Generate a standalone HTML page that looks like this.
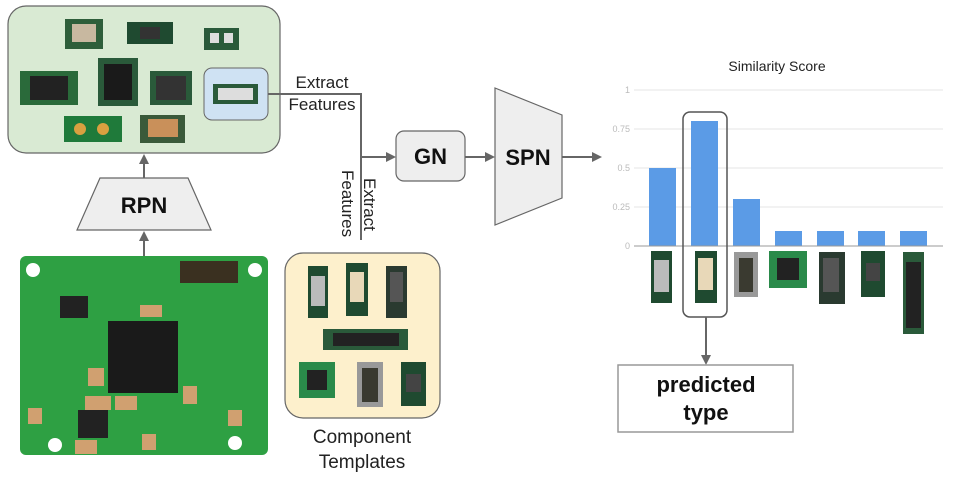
<!DOCTYPE html>
<html><head><meta charset="utf-8"><style>
body{margin:0;width:960px;height:479px;background:#fff;overflow:hidden;font-family:"Liberation Sans",sans-serif}
</style></head><body>
<svg width="960" height="479" viewBox="0 0 960 479" xmlns="http://www.w3.org/2000/svg" font-family="Liberation Sans, sans-serif">
<defs><marker id="a" markerWidth="10" markerHeight="10" refX="8" refY="5" orient="auto" markerUnits="userSpaceOnUse"><path d="M0,0 L10,5 L0,10 z" fill="#666"/></marker></defs>
<!-- top detections box -->
<rect x="8" y="6" width="272" height="147" rx="18" fill="#d9ead3" stroke="#666" stroke-width="1.2"/>
<rect x="65" y="19" width="38" height="30" fill="#2e5e3a"/><rect x="72" y="24" width="24" height="18" fill="#c8b8a0"/>
<rect x="127" y="22" width="46" height="22" fill="#1f4a30"/><rect x="140" y="27" width="20" height="12" fill="#333"/>
<rect x="204" y="28" width="35" height="22" fill="#2a5a3a"/><rect x="210" y="33" width="9" height="10" fill="#ddd"/><rect x="224" y="33" width="9" height="10" fill="#ddd"/>
<rect x="20" y="71" width="58" height="34" fill="#2a6a3a"/><rect x="30" y="76" width="38" height="24" fill="#222"/>
<rect x="98" y="58" width="40" height="48" fill="#2a5a3a"/><rect x="104" y="64" width="28" height="36" fill="#1a1a1a"/>
<rect x="150" y="71" width="42" height="34" fill="#2a5a3a"/><rect x="156" y="76" width="30" height="24" fill="#333"/>
<rect x="204" y="68" width="64" height="52" rx="8" fill="#cfe2f3" stroke="#666"/>
<rect x="213" y="84" width="45" height="20" fill="#2a5a3a"/><rect x="218" y="88" width="35" height="12" fill="#ddd"/>
<rect x="64" y="116" width="58" height="26" fill="#1f7a3a"/><circle cx="80" cy="129" r="6" fill="#d9a040"/><circle cx="103" cy="129" r="6" fill="#d9a040"/>
<rect x="140" y="115" width="45" height="28" fill="#3a5a3a"/><rect x="148" y="119" width="30" height="18" fill="#c9905a"/>
<!-- Extract features lines -->
<polyline points="268,94 361,94 361,240" fill="none" stroke="#666" stroke-width="2"/>
<line x1="361" y1="157" x2="394" y2="157" stroke="#666" stroke-width="2" marker-end="url(#a)"/>
<text x="322" y="88" font-size="17" text-anchor="middle" fill="#222">Extract</text>
<text x="322" y="110" font-size="17" text-anchor="middle" fill="#222">Features</text>
<text transform="translate(364,178) rotate(90)" font-size="17" fill="#222">Extract</text>
<text transform="translate(342,170) rotate(90)" font-size="17" fill="#222">Features</text>
<!-- RPN -->
<line x1="144" y1="178" x2="144" y2="156" stroke="#666" stroke-width="2" marker-end="url(#a)"/>
<polygon points="100,178 188,178 211,230 77,230" fill="#eee" stroke="#666" stroke-width="1.2"/>
<text x="144" y="213" font-size="22" font-weight="bold" text-anchor="middle" fill="#111">RPN</text>
<line x1="144" y1="256" x2="144" y2="233" stroke="#666" stroke-width="2" marker-end="url(#a)"/>
<!-- PCB -->
<rect x="20" y="256" width="248" height="199" rx="6" fill="#2ea043"/>
<circle cx="33" cy="270" r="7" fill="#fff"/><circle cx="255" cy="270" r="7" fill="#fff"/><circle cx="55" cy="445" r="7" fill="#fff"/><circle cx="235" cy="443" r="7" fill="#fff"/>
<rect x="108" y="321" width="70" height="72" fill="#1a1a1a"/>
<rect x="60" y="296" width="28" height="22" fill="#222"/><rect x="78" y="410" width="30" height="28" fill="#222"/>
<rect x="180" y="261" width="58" height="22" fill="#3a3020"/>
<rect x="140" y="305" width="22" height="12" fill="#d0a070"/><rect x="88" y="368" width="16" height="18" fill="#d0a070"/><rect x="28" y="408" width="14" height="16" fill="#d0a070"/><rect x="85" y="396" width="26" height="14" fill="#d0a070"/><rect x="115" y="396" width="22" height="14" fill="#d0a070"/><rect x="183" y="386" width="14" height="18" fill="#d0a070"/><rect x="228" y="410" width="14" height="16" fill="#d0a070"/><rect x="142" y="434" width="14" height="16" fill="#d0a070"/><rect x="75" y="440" width="22" height="14" fill="#d0a070"/>
<!-- templates -->
<rect x="285" y="253" width="155" height="165" rx="18" fill="#fdf0cc" stroke="#666" stroke-width="1.2"/>
<rect x="308" y="266" width="20" height="52" fill="#1f4a30"/><rect x="311" y="276" width="14" height="30" fill="#bbb"/>
<rect x="346" y="263" width="22" height="53" fill="#1f4a30"/><rect x="350" y="272" width="14" height="30" fill="#e8d8b8"/>
<rect x="386" y="266" width="21" height="52" fill="#2a3a30"/><rect x="390" y="272" width="13" height="30" fill="#555"/>
<rect x="323" y="329" width="85" height="21" fill="#2a5a3a"/><rect x="333" y="333" width="66" height="13" fill="#222"/>
<rect x="299" y="362" width="36" height="36" fill="#2a8a4a"/><rect x="307" y="370" width="20" height="20" fill="#222"/>
<rect x="357" y="362" width="26" height="45" fill="#999"/><rect x="362" y="368" width="16" height="34" fill="#3a3a30"/>
<rect x="401" y="362" width="25" height="44" fill="#1f4a30"/><rect x="406" y="374" width="15" height="18" fill="#444"/>
<text x="362" y="443" font-size="19" text-anchor="middle" fill="#222">Component</text>
<text x="362" y="468" font-size="19" text-anchor="middle" fill="#222">Templates</text>
<!-- GN, SPN -->
<rect x="396" y="131" width="69" height="50" rx="8" fill="#eee" stroke="#666" stroke-width="1.2"/>
<text x="430.5" y="164" font-size="22" font-weight="bold" text-anchor="middle" fill="#111">GN</text>
<line x1="465" y1="157" x2="493" y2="157" stroke="#666" stroke-width="2" marker-end="url(#a)"/>
<polygon points="495,88 562,115 562,198 495,225" fill="#eee" stroke="#666" stroke-width="1.2"/>
<text x="528" y="165" font-size="22" font-weight="bold" text-anchor="middle" fill="#111">SPN</text>
<line x1="562" y1="157" x2="600" y2="157" stroke="#666" stroke-width="2" marker-end="url(#a)"/>
<!-- chart -->
<text x="777" y="71" font-size="14" text-anchor="middle" fill="#222">Similarity Score</text>
<g stroke="#e6e6e6" stroke-width="1"><line x1="634" y1="90" x2="943" y2="90"/><line x1="634" y1="129" x2="943" y2="129"/><line x1="634" y1="168" x2="943" y2="168"/><line x1="634" y1="207" x2="943" y2="207"/></g>
<g font-size="9" fill="#bbb" text-anchor="end"><text x="630" y="93">1</text><text x="630" y="132">0.75</text><text x="630" y="171">0.5</text><text x="630" y="210">0.25</text><text x="630" y="249">0</text></g>
<g fill="#5b9be6"><rect x="649" y="168" width="27" height="78"/><rect x="691" y="121" width="27" height="125"/><rect x="733" y="199" width="27" height="47"/><rect x="775" y="231" width="27" height="15"/><rect x="817" y="231" width="27" height="15"/><rect x="858" y="231" width="27" height="15"/><rect x="900" y="231" width="27" height="15"/></g>
<line x1="634" y1="246" x2="943" y2="246" stroke="#999" stroke-width="1"/>
<rect x="651" y="251" width="21" height="52" fill="#1f4a30"/><rect x="654" y="260" width="15" height="32" fill="#bbb"/>
<rect x="695" y="251" width="22" height="52" fill="#1f4a30"/><rect x="698" y="258" width="15" height="32" fill="#e8d8b8"/>
<rect x="734" y="252" width="24" height="45" fill="#999"/><rect x="739" y="258" width="14" height="34" fill="#3a3a30"/>
<rect x="769" y="251" width="38" height="37" fill="#2a8a4a"/><rect x="777" y="258" width="22" height="22" fill="#222"/>
<rect x="819" y="252" width="26" height="52" fill="#2a3a30"/><rect x="823" y="258" width="16" height="34" fill="#555"/>
<rect x="861" y="251" width="24" height="46" fill="#1f4a30"/><rect x="866" y="263" width="14" height="18" fill="#444"/>
<rect x="903" y="252" width="21" height="82" fill="#2a5a3a"/><rect x="906" y="262" width="15" height="66" fill="#222"/>
<rect x="683" y="112" width="44" height="205" rx="7" fill="none" stroke="#555" stroke-width="1.5"/>
<line x1="706" y1="317" x2="706" y2="363" stroke="#666" stroke-width="2" marker-end="url(#a)"/>
<rect x="618" y="365" width="175" height="67" fill="#fff" stroke="#999" stroke-width="1.5"/>
<text x="706" y="392" font-size="22" font-weight="bold" text-anchor="middle" fill="#111">predicted</text>
<text x="706" y="420" font-size="22" font-weight="bold" text-anchor="middle" fill="#111">type</text>
</svg>
</body></html>
